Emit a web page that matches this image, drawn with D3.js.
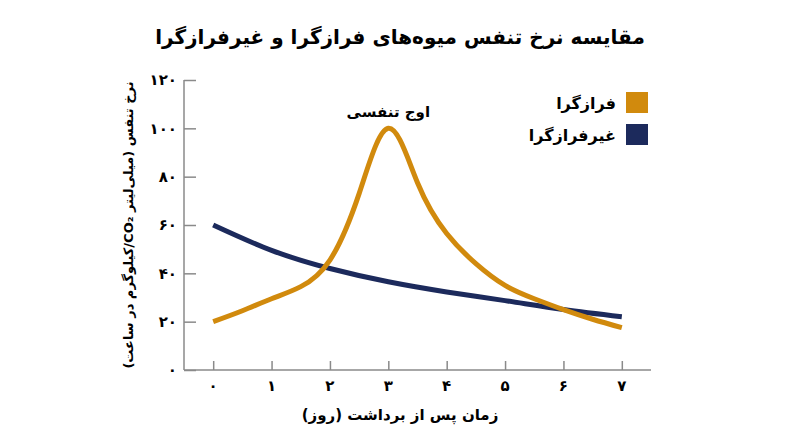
<!DOCTYPE html>
<html lang="fa">
<head>
<meta charset="utf-8">
<script src="https://cdn.jsdelivr.net/npm/d3@7"></script>
<style>
  body { margin: 0; background: #fff; }
  svg { display: block; font-family: "DejaVu Sans", "Noto Sans", sans-serif; }
</style>
</head>
<body>
<figure style="margin:0"></figure>
<script>
const width = 800
const height = 447

// data
const climDays = [0, 0.5, 1, 1.5, 2, 2.5, 3, 3.5, 4, 4.5, 5, 5.5, 6, 6.5, 7]
const climRate = [20, 24.5, 29.5, 34.5, 45.5, 73, 100, 77.5, 56.5, 44, 35, 29.5, 25, 21, 17.5]
const nonDays = [0, 1, 2, 3, 4, 5, 6, 7]
const nonRate = [60, 49.5, 42, 36.5, 32.3, 28.7, 25, 22]
const xTicks = [0, 1, 2, 3, 4, 5, 6, 7]
const yTicks = [0, 20, 40, 60, 80, 100, 120]
const seriesNames = ['فرازگرا', 'غیرفرازگرا']
const seriesColors = ['#d18a0d', '#1c2a5c']

const title = 'مقایسه نرخ تنفس میوه‌های فرازگرا و غیرفرازگرا'
const xTitle = 'زمان پس از برداشت (روز)'
const yTitle = 'نرخ تنفس (میلی‌لیتر CO₂/کیلوگرم در ساعت)'
const peakLabel = 'اوج تنفسی'

const fa = n => String(n).replace(/\d/g, d => '۰۱۲۳۴۵۶۷۸۹'[d])

const x = d3.scaleLinear().domain([-0.5, 7.5]).range([184, 651])
const y = d3.scaleLinear().domain([0, 120]).range([370, 80])

const svg = d3.select('figure').append('svg')
  .attr('width', width)
  .attr('height', height)

// title
svg.append('text')
  .attr('x', 400).attr('y', 44)
  .attr('text-anchor', 'middle')
  .attr('direction', 'rtl')
  .style('font-size', '20px').style('font-weight', 'bold')
  .text(title)

// axes
const axisColor = '#8a8a8a'

const yAxis = svg.append('g')
  .attr('transform', `translate(${x(-0.5)},0)`)
  .call(d3.axisRight(y).tickValues(yTicks).tickSize(12).tickFormat(''))
yAxis.select('.domain').attr('stroke', axisColor).attr('stroke-width', 1.5).attr('d', `M0,${y(120)}V${y(0)}`)
yAxis.selectAll('.tick line').attr('stroke', axisColor).attr('stroke-width', 1.5)

svg.append('g').selectAll('text')
  .data(yTicks)
  .join('text')
  .attr('x', 177)
  .attr('y', d => y(d))
  .attr('dy', '0.35em')
  .attr('text-anchor', 'end')
  .style('font-size', '15px').style('font-weight', 'bold')
  .text(d => fa(d))

const xAxis = svg.append('g')
  .attr('transform', `translate(0,${y(0)})`)
  .call(d3.axisTop(x).tickValues(xTicks).tickSize(9).tickFormat(''))
xAxis.select('.domain').attr('stroke', axisColor).attr('stroke-width', 1.5).attr('d', `M${x(-0.5)},0H${x(7.5)}`)
xAxis.selectAll('.tick line').attr('stroke', axisColor).attr('stroke-width', 1.5)

svg.append('g').selectAll('text')
  .data(xTicks)
  .join('text')
  .attr('x', d => x(d))
  .attr('y', 391)
  .attr('text-anchor', 'middle')
  .style('font-size', '15px').style('font-weight', 'bold')
  .text(d => fa(d))

svg.append('text')
  .attr('x', 400).attr('y', 420)
  .attr('text-anchor', 'middle')
  .attr('direction', 'rtl')
  .style('font-size', '15px').style('font-weight', 'bold')
  .text(xTitle)

svg.append('text')
  .attr('transform', `translate(133,${(y(0) + y(120)) / 2}) rotate(-90)`)
  .attr('text-anchor', 'middle')
  .attr('direction', 'rtl')
  .style('font-size', '13px').style('font-weight', 'bold')
  .text(yTitle)

// lines
const line = d3.line()
  .x(d => x(d[0]))
  .y(d => y(d[1]))
  .curve(d3.curveNatural)

svg.append('path')
  .datum(d3.zip(nonDays, nonRate))
  .attr('fill', 'none')
  .attr('stroke', seriesColors[1])
  .attr('stroke-width', 5)
  .attr('d', line)

svg.append('path')
  .datum(d3.zip(climDays, climRate))
  .attr('fill', 'none')
  .attr('stroke', seriesColors[0])
  .attr('stroke-width', 5)
  .attr('d', line)

// peak note
svg.append('text')
  .attr('x', x(3)).attr('y', y(100) - 11)
  .attr('text-anchor', 'middle')
  .attr('direction', 'rtl')
  .style('font-size', '15px').style('font-weight', 'bold')
  .text(peakLabel)

// legend
const legend = svg.append('g')
  .selectAll('g')
  .data(seriesNames)
  .join('g')
  .attr('transform', (d, i) => `translate(626,${92 + i * 32})`)
legend.append('rect')
  .attr('width', 22).attr('height', 21)
  .attr('fill', (d, i) => seriesColors[i])
legend.append('text')
  .attr('x', -10).attr('y', 11)
  .attr('dy', '0.35em')
  .attr('text-anchor', 'start')
  .attr('direction', 'rtl')
  .style('font-size', '16px').style('font-weight', 'bold')
  .text(d => d)
</script>
</body>
</html>
